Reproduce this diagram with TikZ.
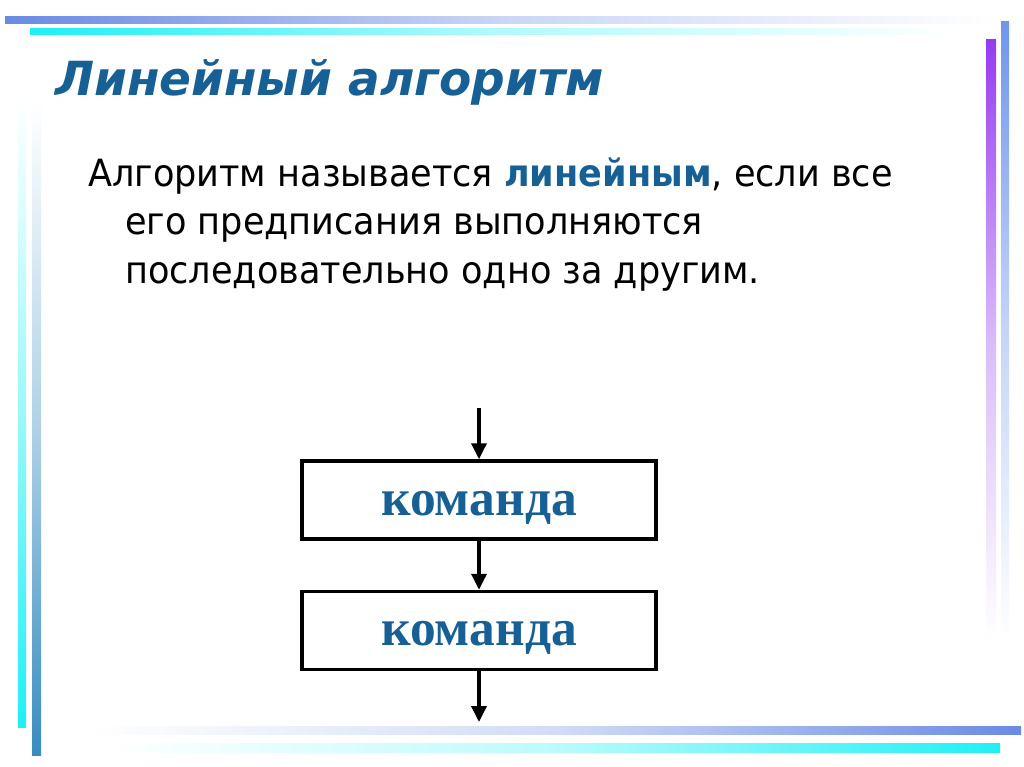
\documentclass[tikz,border=0pt]{standalone}
\usepackage{fontspec}
\setmainfont{DejaVu Sans Condensed}[FakeStretch=1.04]
\newfontfamily\titlefont{DejaVu Sans}
\newfontfamily\boxfont{Liberation Serif}
\usepackage[]{tikz}
\usetikzlibrary{arrows.meta}
\definecolor{headblue}{RGB}{22,96,150}
\definecolor{barblue}{RGB}{106,138,226}
\definecolor{barcyan}{RGB}{30,240,245}
\definecolor{barteal}{RGB}{56,140,192}
\definecolor{barviolet}{RGB}{150,60,240}
\definecolor{barsky}{RGB}{110,150,235}

\begin{document}
\begin{tikzpicture}[x=1pt,y=-1pt, %1pt = 1像素, y向下
    cmdbox/.style={draw,line width=3.5pt,minimum width=354pt,minimum height=78pt,inner sep=0pt,
        text height=30pt,text depth=0pt,
        font=\boxfont\bfseries\fontsize{51.5}{51.5}\selectfont,text=headblue},
    bodytext/.style={anchor=base west,inner sep=0pt,font=\fontsize{37.5}{37.5}\selectfont},
    flow/.style={line width=3.5pt,-{Triangle[length=16pt,width=15pt]}}]
            \useasboundingbox (0,0) rectangle (1024,767);
            \fill[white] (0,0) rectangle (1024,767);
            % 边框色条
            \shade[left color=barblue,right color=white,middle color=barblue!35] (5,17) rectangle (1000,24);
            \shade[left color=barcyan,right color=white,middle color=barcyan!35] (30,29) rectangle (960,35);
            \shade[top color=white,bottom color=barcyan,middle color=barcyan!45] (18,100) rectangle (26,727);
            \shade[top color=white,bottom color=barteal,middle color=barteal!40] (32,100) rectangle (41,755);
            \shade[top color=barviolet,bottom color=white,middle color=barviolet!35] (986,40) rectangle (996,640);
            \shade[top color=barsky,bottom color=white,middle color=barsky!40] (1001,22) rectangle (1009,640);
            \shade[left color=white,right color=barblue,middle color=barblue!30] (90,726) rectangle (1021,734);
            \shade[left color=white,right color=barcyan,middle color=barcyan!30] (110,743) rectangle (1000,752);
            % 标题和正文
            \node[anchor=base west,inner sep=0pt,text=headblue,
                font=\titlefont\bfseries\itshape\fontsize{47}{47}\selectfont] (title) at (55,96) {Линейный алгоритм};
            \node[bodytext] (line1) at (88,187) {Алгоритм называется {\bfseries\color{headblue}линейным}, если все};
            \node[bodytext] (line2) at (125,235) {его предписания выполняются};
            \node[bodytext] (line3) at (125,283) {последовательно одно за другим.};
            % 框图
            \node[cmdbox] (cmd1) at (479,500) {команда};
            \node[cmdbox] (cmd2) at (479,630.5) {команда};
            \coordinate (in) at (479,408);
            \coordinate (out) at (479,722);
            \draw[flow] (in)--(cmd1.north);
            \draw[flow] (cmd1)--(cmd2);
            \draw[flow] (cmd2)--(out);
        \end{tikzpicture}
\end{document}
